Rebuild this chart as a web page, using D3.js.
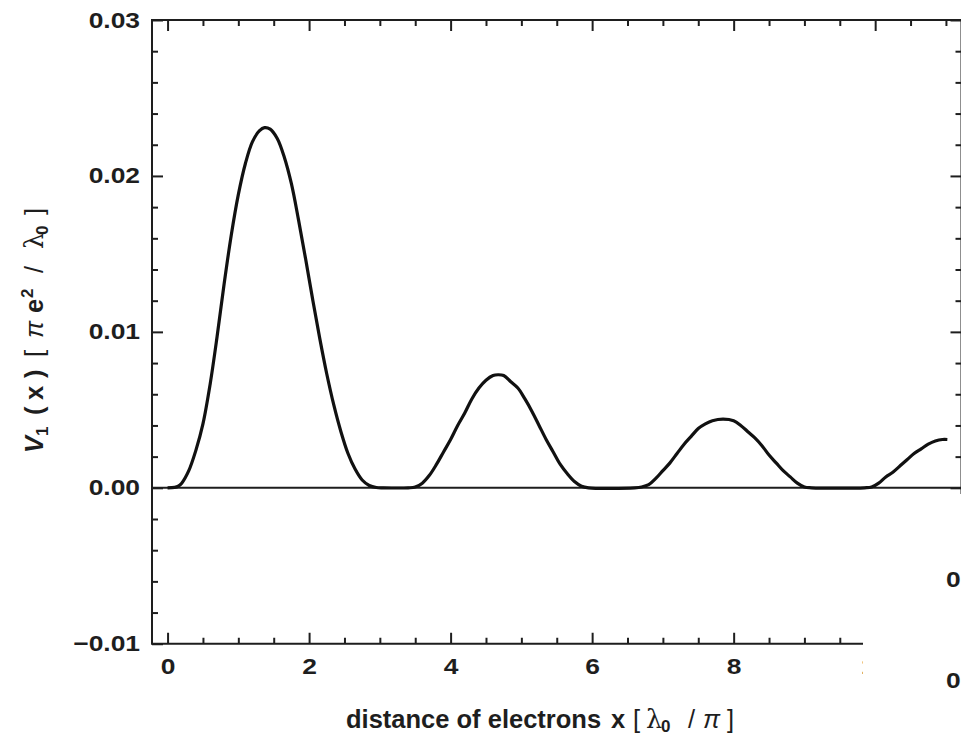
<!DOCTYPE html>
<html>
<head>
<meta charset="utf-8">
<script src="https://cdn.jsdelivr.net/npm/d3@7"></script>
<style>
  html, body { margin: 0; padding: 0; background: #fff; }
  svg { display: block; }
  text { font-family: "Liberation Sans", Arial, sans-serif; fill: #1e1e1e; }
</style>
</head>
<body>
<svg id="chart" width="961" height="735"></svg>
<script>
// Potential V1(x) between the electrons, sampled along x [λ0/π]
const xs = [
  0.00, 0.10, 0.15, 0.20, 0.30, 0.40, 0.50, 0.60, 0.70, 0.80, 0.90, 1.00, 1.10, 1.20, 1.30, 1.37, 1.45, 1.55,
  1.65, 1.75, 1.85, 1.95, 2.05, 2.15, 2.25, 2.35, 2.45, 2.55, 2.65, 2.75, 2.85, 2.95, 3.05,
  3.40, 3.50, 3.60, 3.70, 3.80, 3.90, 4.00, 4.10, 4.20, 4.30, 4.40, 4.50, 4.60, 4.67, 4.75, 4.85, 4.95,
  5.05, 5.15, 5.25, 5.35, 5.45, 5.55, 5.65, 5.75, 5.85, 5.95,
  6.60, 6.70, 6.80, 6.90, 7.00, 7.10, 7.20, 7.30, 7.40, 7.50, 7.60, 7.70, 7.85, 8.00, 8.10, 8.20,
  8.30, 8.40, 8.50, 8.60, 8.70, 8.80, 8.90, 9.00, 9.10,
  9.85, 9.95, 10.05, 10.15, 10.25, 10.35, 10.45, 10.55, 10.65, 10.75, 10.85, 10.95, 11.02
];
const v1 = [
  0, 0.00003, 0.0001, 0.0003, 0.0011, 0.0024, 0.0041, 0.0066, 0.0097, 0.0131, 0.0162, 0.0188, 0.0208, 0.0222, 0.0229, 0.0231, 0.0230, 0.0224,
  0.0212, 0.0195, 0.0172, 0.0147, 0.0121, 0.0096, 0.0073, 0.0053, 0.0036, 0.0022, 0.0012, 0.0005, 0.00015, 0.00002, 0,
  0, 0.00005, 0.0003, 0.0008, 0.0015, 0.0023, 0.0031, 0.0040, 0.0048, 0.0057, 0.0064, 0.0069, 0.0072, 0.00725, 0.0072, 0.0068, 0.0064,
  0.0057, 0.0049, 0.0040, 0.0031, 0.0023, 0.0015, 0.0009, 0.0004, 0.0001, 0,
  0, 0.00005, 0.0002, 0.0006, 0.0011, 0.0016, 0.0022, 0.0028, 0.0033, 0.0038, 0.0041, 0.0043, 0.0044, 0.0043, 0.0040, 0.0036,
  0.0032, 0.0027, 0.0021, 0.0016, 0.0011, 0.0007, 0.0003, 0.00005, 0,
  0, 0.00005, 0.0003, 0.0007, 0.0010, 0.0014, 0.0018, 0.0022, 0.0025, 0.0028, 0.0030, 0.0031, 0.0031
];

const xTicks = [0, 2, 4, 6, 8, 10];
const xTickLabels = ["0", "2", "4", "6", "8", "10"];
const yTicks = [-0.01, 0, 0.01, 0.02, 0.03];
const yTickLabels = ["\u22120.01", "0.00", "0.01", "0.02", "0.03"];

const svg = d3.select("#chart");
const frameL = 152, frameR = 961.5, frameT = 20, frameB = 643.75;
const stretch = "scale(1.2,1)";

const x = d3.scaleLinear().domain([-0.22, 11.22]).range([frameL, frameR]);
const y = d3.scaleLinear().domain([-0.01, 0.03]).range([frameB, frameT]);

const xMinor = d3.range(0.5, 11.01, 0.5).filter(v => !xTicks.includes(v));
const yMinor = d3.range(-0.008, 0.0301, 0.002).filter(v => Math.abs(Math.round(v * 100) - v * 100) > 1e-6);

function styleAxis(g) {
  g.select(".domain").remove();
  g.selectAll(".tick line").attr("stroke", "#1e1e1e").attr("stroke-width", 2);
  g.selectAll("text").attr("fill", "#1e1e1e");
  g.attr("font-family", null);
}

// bottom frame axis
const gB = svg.append("g").attr("transform", `translate(0,${frameB})`)
  .call(d3.axisBottom(x).tickValues(xTicks).tickSize(-11).tickPadding(15)
    .tickFormat((d, i) => xTickLabels[i]));
styleAxis(gB);
gB.selectAll("text").attr("font-size", 22).attr("font-weight", "bold").attr("transform", stretch);
svg.append("g").attr("transform", `translate(0,${frameB})`)
  .call(d3.axisBottom(x).tickValues(xMinor).tickSize(-6).tickFormat(""))
  .call(styleAxis);

// top frame axis
svg.append("g").attr("transform", `translate(0,${frameT})`)
  .call(d3.axisTop(x).tickValues(xTicks).tickSize(-11).tickFormat(""))
  .call(styleAxis);
svg.append("g").attr("transform", `translate(0,${frameT})`)
  .call(d3.axisTop(x).tickValues(xMinor).tickSize(-6).tickFormat(""))
  .call(styleAxis);

// left frame axis
const gL = svg.append("g").attr("transform", `translate(${frameL},0)`)
  .call(d3.axisLeft(y).tickValues(yTicks).tickSize(-11).tickPadding(10)
    .tickFormat((d, i) => yTickLabels[i]));
styleAxis(gL);
gL.selectAll("text").attr("font-size", 22).attr("font-weight", "bold").attr("transform", stretch);
svg.append("g").attr("transform", `translate(${frameL},0)`)
  .call(d3.axisLeft(y).tickValues(yMinor).tickSize(-6).tickFormat(""))
  .call(styleAxis);

// right frame axis
svg.append("g").attr("transform", `translate(${frameR},0)`)
  .call(d3.axisRight(y).tickValues(yTicks).tickSize(-11).tickFormat(""))
  .call(styleAxis);
svg.append("g").attr("transform", `translate(${frameR},0)`)
  .call(d3.axisRight(y).tickValues(yMinor).tickSize(-6).tickFormat(""))
  .call(styleAxis);

// frame
svg.append("rect")
  .attr("x", frameL).attr("y", frameT)
  .attr("width", frameR - frameL).attr("height", frameB - frameT)
  .attr("fill", "none").attr("stroke", "#1e1e1e").attr("stroke-width", 2);

// zero line
svg.append("line")
  .attr("x1", frameL).attr("x2", frameR)
  .attr("y1", y(0)).attr("y2", y(0))
  .attr("stroke", "#1e1e1e").attr("stroke-width", 2);

// curve
const pts = xs.map((d, i) => [d, v1[i]]);
svg.append("path")
  .datum(pts)
  .attr("fill", "none")
  .attr("stroke", "#111")
  .attr("stroke-width", 3.2)
  .attr("stroke-linejoin", "round")
  .attr("d", d3.line().x(d => x(d[0])).y(d => y(d[1])).curve(d3.curveCatmullRom.alpha(0.5)));

// axis titles: pieces of each formula set one by one
function piece(t, s, px, opts = {}) {
  const sp = t.append("tspan").attr("x", px).text(s);
  if (opts.bold) sp.attr("font-weight", "bold");
  if (opts.italic) sp.attr("font-style", "italic");
  if (opts.serif) sp.attr("font-family", "DejaVu Serif");
  if (opts.size) sp.attr("font-size", opts.size);
  if (opts.dy) sp.attr("dy", opts.dy);
  return sp;
}

const xt = svg.append("text")
  .attr("transform", "translate(0,728)")
  .attr("font-size", 25.5);
piece(xt, "distance of electrons", 346, { bold: true });
piece(xt, "x", 611, { bold: true });
piece(xt, "[", 633);
piece(xt, "\u03bb", 646, { serif: true });
piece(xt, "0", 661, { bold: true, size: 17, dy: 4 });
piece(xt, "/", 688, { dy: -4 });
piece(xt, "\u03c0", 703, { italic: true });
piece(xt, "]", 727);

const yt = svg.append("text")
  .attr("transform", "translate(43,453) rotate(-90)")
  .attr("font-size", 25.5);
piece(yt, "V", 0, { bold: true, italic: true });
piece(yt, "1", 17, { bold: true, size: 17, dy: 5 });
piece(yt, "(", 38, { bold: true, dy: -5 });
piece(yt, "x", 53, { bold: true });
piece(yt, ")", 75, { bold: true });
piece(yt, "[", 96);
piece(yt, "\u03c0", 115, { italic: true });
piece(yt, "e", 140, { bold: true });
piece(yt, "2", 155, { bold: true, size: 17, dy: -10 });
piece(yt, "/", 180, { dy: 10 });
piece(yt, "\u03bb", 204, { serif: true });
piece(yt, "0", 218, { bold: true, size: 17, dy: 5 });
piece(yt, "]", 238, { dy: -5 });

// pasted panel in the lower right corner
svg.append("rect")
  .attr("x", 863).attr("y", 494)
  .attr("width", 961 - 863).attr("height", 735 - 494)
  .attr("fill", "#fff");
[587, 688].forEach(by => {
  svg.append("text")
    .attr("transform", `translate(946,${by}) ${stretch}`)
    .attr("font-size", 22).attr("font-weight", "bold")
    .text("0");
});
</script>
</body>
</html>
